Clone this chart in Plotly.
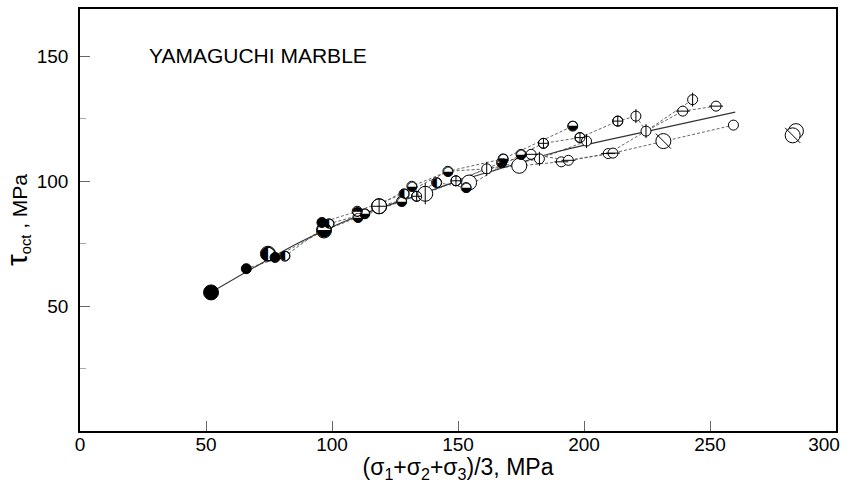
import plotly.graph_objects as go

# ---- data ----
# marker points: x = mean stress (MPa), y = octahedral shear stress (MPa)
pt_x = [52, 66, 74.6, 77.4, 81.3, 96, 98.8, 96.8, 110, 110.3, 113, 118.7, 127.6, 128.6,
        131.7, 133.6, 137, 141.5, 146, 149.2, 154.4, 153.2, 161.4, 167.3, 167.9, 175,
        179, 174.3, 182.3, 183.9, 191, 193.8, 195.5, 198.4, 201, 209.6, 211.5, 213.4,
        220.6, 224.6, 231.5, 239.2, 243.1, 252.4, 259.3, 282.8, 284.1]
pt_y = [55.5, 65, 71, 69.5, 70, 83.5, 83, 80.3, 88, 85.6, 87, 90, 92, 95,
        98, 94, 95, 99.5, 104, 100.2, 99.5, 97.5, 105, 107.5, 109, 110.8,
        110.8, 106.2, 109, 115.2, 107.8, 108.4, 122.1, 117.5, 116.1, 111.1, 111.3, 124.1,
        126.1, 120.1, 116.1, 128.1, 132.7, 130.1, 122.5, 118.4, 120.1]
# symbol kind of each point
pt_kind = ["filled", "filled", "left", "filled", "left", "filled", "left", "bottom", "top", "bottom", "bottom", "cross", "bottom", "left",
           "bottom", "cross", "vert", "left", "bottom", "cross", "open", "bottom", "vert", "bottom", "bottom", "bottom",
           "horiz", "open", "vert", "cross", "horiz", "horiz", "bottom", "cross", "vert", "horiz", "horiz", "cross",
           "vert", "vert", "diag", "horiz", "vert", "horiz", "open", "diag", "open"]
pt_big = [1, 0, 1, 0, 0, 0, 0, 1, 0, 0, 0, 1, 0, 0,
          0, 0, 1, 0, 0, 0, 1, 0, 0, 0, 0, 0,
          0, 1, 0, 0, 0, 0, 0, 0, 0, 0, 0, 0,
          0, 0, 1, 0, 0, 0, 0, 1, 1]

# dashed test paths
path_a_x = [66, 81.3, 98.8, 113, 131.7, 146, 167.9, 195.5]
path_a_y = [65, 70, 83, 87, 98, 104, 109, 122.1]
path_b_x = [77.4, 96.8, 110.3, 127.6, 141.5, 153.2, 175, 183.9, 198.4, 213.4, 220.6, 224.6, 243.1]
path_b_y = [69.5, 80.3, 85.6, 92, 99.5, 97.5, 110.8, 115.2, 117.5, 124.1, 126.1, 120.1, 132.7]
path_c_x = [118.7, 133.6, 149.2, 167.3, 179, 193.8, 209.6, 224.6, 239.2, 252.4]
path_c_y = [90, 94, 100.2, 107.5, 110.8, 108.4, 111.1, 120.1, 128.1, 130.1]
path_d_x = [137, 161.4, 174.3, 191, 211.5, 231.5, 259.3]
path_d_y = [95, 105, 106.2, 107.8, 111.3, 116.1, 122.5]
path_e_x = [96, 110, 128.6, 146, 161.4, 182.3, 201]
path_e_y = [83.5, 88, 95, 104, 105, 109, 116.1]

# solid fitted curve
fit_x = [52, 70, 88, 110, 130, 150, 170, 190, 225, 260]
fit_y = [55.5, 66, 76, 86, 93, 100, 106, 112, 120, 127.7]

x_ticks_main = [0, 50, 100, 150, 200, 250]
x_tick_last = [300]
y_ticks = [50, 100, 150]

FONT = "Liberation Sans, Arial, sans-serif"
S, L = 10, 15

fig = go.Figure()

for px_, py_ in [(path_a_x, path_a_y), (path_b_x, path_b_y), (path_c_x, path_c_y),
                 (path_d_x, path_d_y), (path_e_x, path_e_y)]:
    fig.add_trace(go.Scatter(x=px_, y=py_, mode="lines",
                             line=dict(color="#555555", width=0.9, dash="3px,2px"),
                             hoverinfo="skip", showlegend=False))

fig.add_trace(go.Scatter(x=fit_x, y=fit_y, mode="lines", line_shape="spline",
                         line=dict(color="#333333", width=1.1),
                         hoverinfo="skip", showlegend=False))


def sel(kind):
    xs, ys, ss = [], [], []
    for x, y, k, b in zip(pt_x, pt_y, pt_kind, pt_big):
        if k == kind:
            xs.append(x); ys.append(y); ss.append(L if b else S)
    return xs, ys, ss


def add_marker(kind, symbol, fill="white"):
    xs, ys, ss = sel(kind)
    if not xs:
        return
    fig.add_trace(go.Scatter(x=xs, y=ys, mode="markers",
                             marker=dict(symbol=symbol, size=ss, color=fill, opacity=1,
                                         line=dict(color="black", width=1)),
                             showlegend=False))


for kind in ["open", "cross", "vert", "horiz", "diag", "left", "bottom", "top"]:
    add_marker(kind, "circle", "white")
add_marker("filled", "circle", "black")
add_marker("cross", "circle-cross-open", "black")
add_marker("vert", "line-ns-open", "black")
add_marker("horiz", "line-ew-open", "black")
add_marker("diag", "line-nw-open", "black")

# half-filled discs drawn with geometric-shape glyphs
glyph = {"left": "\u25D0", "bottom": "\u25D2", "top": "\u25D3"}
for kind, g in glyph.items():
    xs, ys, ss = sel(kind)
    fig.add_trace(go.Scatter(x=xs, y=ys, mode="text", text=[g] * len(xs),
                             textposition="middle center",
                             textfont=dict(family="DejaVu Sans", size=[s * 1.3 for s in ss],
                                           color="black"),
                             hoverinfo="skip", showlegend=False))

# invisible traces anchoring the overlay x axes that carry the tick labels
fig.add_trace(go.Scatter(x=[x_ticks_main[0]], y=[None], xaxis="x2", mode="markers",
                         marker=dict(opacity=0), hoverinfo="skip", showlegend=False))
fig.add_trace(go.Scatter(x=[x_tick_last[0]], y=[None], xaxis="x3", mode="markers",
                         marker=dict(opacity=0), hoverinfo="skip", showlegend=False))

fig.add_annotation(text="YAMAGUCHI MARBLE", xref="paper", yref="paper",
                   x=0.088, y=0.89, xanchor="left", yanchor="middle", showarrow=False,
                   font=dict(family=FONT, size=21, color="black"))

NB = "\u00a0"
label_axis = dict(range=[0, 300], overlaying="x", side="bottom", ticks="",
                  showline=False, showgrid=False, zeroline=False,
                  tickfont=dict(size=19, family=FONT), ticklabeloverflow="allow")
fig.update_layout(
    width=847, height=487,
    margin=dict(l=80, r=11, t=7, b=56),
    paper_bgcolor="white", plot_bgcolor="white",
    font=dict(family=FONT, color="black"),
    xaxis=dict(range=[0, 300], tickvals=x_ticks_main, ticks="inside", ticklen=10,
               tickcolor="#666666", tickwidth=1, showgrid=False, zeroline=False,
               showline=True, linecolor="black", linewidth=1.5, mirror=True,
               showticklabels=False,
               title=dict(text="(σ<sub>1</sub>+σ<sub>2</sub>+σ<sub>3</sub>)/3, MPa",
                          font=dict(size=23, family=FONT), standoff=27)),
    xaxis2=dict(label_axis, tickvals=x_ticks_main),
    xaxis3=dict(label_axis, tickvals=x_tick_last, ticklabelshift=-12),
    yaxis=dict(range=[0, 169], tickvals=y_ticks, ticks="inside", ticklen=10,
               tickcolor="#666666", tickwidth=1, showgrid=False, zeroline=False,
               showline=True, linecolor="black", linewidth=1.5, mirror=True,
               tickfont=dict(size=19, family=FONT), ticklabelstandoff=6,
               minor=dict(tickvals=[25, 75, 125], ticks="inside", ticklen=6,
                          tickcolor="#aaaaaa"),
               title=dict(text="<span style='font-size:30px'>τ</span><sub>oct</sub> , MPa"
                               + NB * 4,
                          font=dict(size=21, family=FONT), standoff=4)),
)

fig.write_html("out.html")
